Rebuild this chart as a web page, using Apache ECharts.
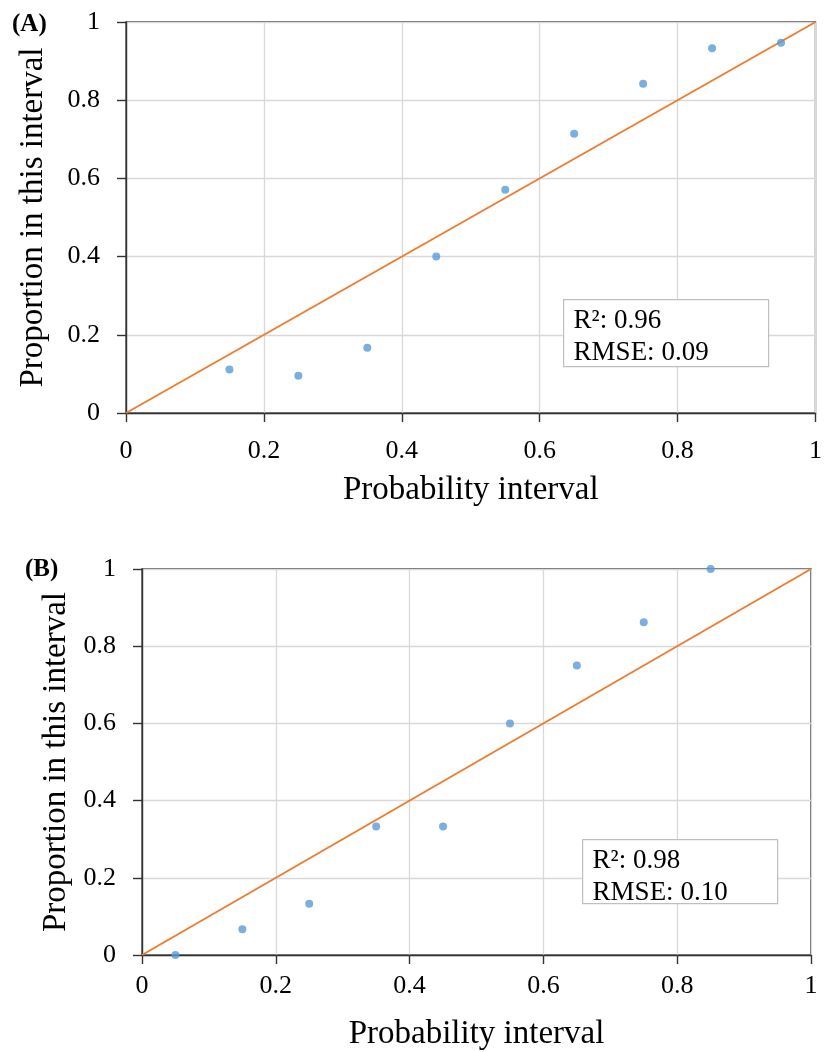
<!DOCTYPE html>
<html>
<head>
<meta charset="utf-8">
<script src="https://cdn.jsdelivr.net/npm/echarts@6/dist/echarts.min.js"></script>
<style>
  html, body { margin: 0; padding: 0; background: #fff; }
  #chart { width: 825px; height: 1052px; }
</style>
</head>
<body>
<div id="chart"></div>
<script>
// Panel A: calibration of predicted probability vs observed proportion
const probA = [0.15, 0.25, 0.35, 0.45, 0.55, 0.65, 0.75, 0.85, 0.95];
const propA = [0.111, 0.095, 0.167, 0.400, 0.571, 0.714, 0.842, 0.933, 0.947];

// Panel B
const probB = [0.05, 0.15, 0.25, 0.35, 0.45, 0.55, 0.65, 0.75, 0.85];
const propB = [0.000, 0.067, 0.133, 0.333, 0.333, 0.600, 0.750, 0.862, 1.000];

// 1:1 reference line end points
const refLine = [[0, 0], [1, 1]];

// Fit statistics shown in each panel
const statsA = ['R²: 0.96', 'RMSE: 0.09'];
const statsB = ['R²: 0.98', 'RMSE: 0.10'];

const panelLabels = ['(A)', '(B)'];
const xTitle = 'Probability interval';
const yTitle = 'Proportion in this interval';

const FONT = "'Liberation Serif', 'Times New Roman', serif";
const AXIS_COLOR = '#333333';
const GRID_COLOR = '#d9d9d9';
const DOT_COLOR = '#5b9bd5';
const LINE_COLOR = '#ed7d31';

function makeAxis(gridIndex, opts) {
  return Object.assign({
    gridIndex: gridIndex,
    type: 'value',
    min: 0,
    max: 1,
    interval: 0.2,
    axisLine: { show: true, onZero: false, lineStyle: { color: AXIS_COLOR, width: 1.4 } },
    axisTick: { show: true, inside: false, length: 9, lineStyle: { color: AXIS_COLOR, width: 1.4 } },
    splitLine: { show: true, lineStyle: { color: GRID_COLOR, width: 1.3 } },
    nameLocation: 'middle',
    nameTextStyle: { color: '#000', fontFamily: FONT, fontSize: 33 }
  }, opts);
}

function tickLabels(margin) {
  return { color: '#000', fontFamily: FONT, fontSize: 26, margin: margin };
}

const grids = [
  { left: 126, top: 22, width: 697, height: 391 },
  { left: 142, top: 569, width: 669, height: 393 }
];

// White annotation box with the fit statistics
function statsBox(left, top, w, h, lines) {
  return {
    type: 'group',
    left: left,
    top: top,
    z: 100,
    children: [
      { type: 'rect', z: 100, shape: { x: 0, y: 0, width: w, height: h },
        style: { fill: '#fff', stroke: '#bfbfbf', lineWidth: 1.2 } },
      { type: 'text', z: 101, x: 10, y: 6,
        style: { text: lines.join('\n'), font: '27px ' + FONT, fill: '#000',
                 lineHeight: 31.5, verticalAlign: 'top' } }
    ]
  };
}

const option = {
  animation: false,
  backgroundColor: '#fff',
  grid: grids.map(g => Object.assign({ show: true, borderColor: AXIS_COLOR, borderWidth: 1.4,
                                        backgroundColor: 'transparent' }, g)),
  xAxis: [
    makeAxis(0, { name: xTitle, nameGap: 61, axisLabel: tickLabels(25) }),
    makeAxis(1, { name: xTitle, nameGap: 63, axisLabel: tickLabels(18) })
  ],
  yAxis: [
    makeAxis(0, { name: yTitle, nameGap: 76, nameRotate: 90, axisLabel: tickLabels(26) }),
    makeAxis(1, { name: yTitle, nameGap: 65, nameRotate: 90, axisLabel: tickLabels(26) })
  ],
  series: [
    { type: 'line', xAxisIndex: 0, yAxisIndex: 0, data: refLine, symbol: 'none',
      lineStyle: { color: LINE_COLOR, width: 2 }, z: 2 },
    { type: 'scatter', xAxisIndex: 0, yAxisIndex: 0,
      data: probA.map((x, i) => [x, propA[i]]),
      symbolSize: 8, itemStyle: { color: DOT_COLOR }, z: 3 },
    { type: 'line', xAxisIndex: 1, yAxisIndex: 1, data: refLine, symbol: 'none',
      lineStyle: { color: LINE_COLOR, width: 2 }, z: 2 },
    { type: 'scatter', xAxisIndex: 1, yAxisIndex: 1,
      data: probB.map((x, i) => [x, propB[i]]),
      symbolSize: 8, itemStyle: { color: DOT_COLOR }, z: 3 }
  ],
  graphic: [
    { type: 'text', left: 12, top: 12, z: 100,
      style: { text: panelLabels[0], font: 'bold 25px ' + FONT, fill: '#000' } },
    { type: 'text', left: 25, top: 557, z: 100,
      style: { text: panelLabels[1], font: 'bold 25px ' + FONT, fill: '#000' } },
    statsBox(563, 299, 205, 67, statsA),
    statsBox(582, 839, 195, 64, statsB)
  ]
};

const chart = echarts.init(document.getElementById('chart'), null, { renderer: 'canvas' });
chart.setOption(option);
</script>
</body>
</html>
